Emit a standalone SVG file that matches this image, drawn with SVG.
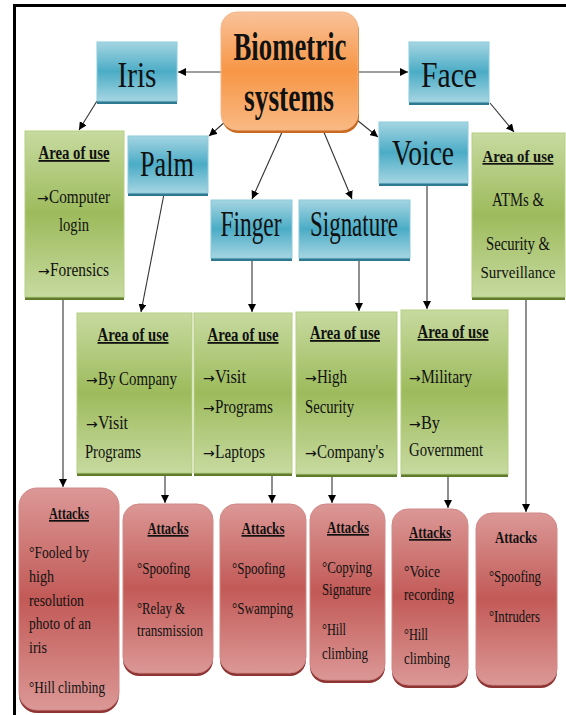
<svg xmlns="http://www.w3.org/2000/svg" width="566" height="715" viewBox="0 0 566 715">
<defs>
<linearGradient id="gO" x1="0" y1="0" x2="0" y2="1"><stop offset="0" stop-color="#F9C299"/><stop offset="0.5" stop-color="#F79646"/><stop offset="1" stop-color="#F9B983"/></linearGradient>
<linearGradient id="gB" x1="0" y1="0" x2="0" y2="1"><stop offset="0" stop-color="#A5D5E2"/><stop offset="0.5" stop-color="#4BACC6"/><stop offset="1" stop-color="#A5D5E2"/></linearGradient>
<linearGradient id="gG" x1="0" y1="0" x2="0" y2="1"><stop offset="0" stop-color="#C7DAA0"/><stop offset="0.5" stop-color="#9DBB5C"/><stop offset="1" stop-color="#C7DAA0"/></linearGradient>
<linearGradient id="gR" x1="0" y1="0" x2="0" y2="1"><stop offset="0" stop-color="#DB9896"/><stop offset="0.5" stop-color="#C25A57"/><stop offset="1" stop-color="#DB9896"/></linearGradient>
<marker id="ah" viewBox="0 0 10 10" refX="10" refY="5" markerWidth="8" markerHeight="8" markerUnits="userSpaceOnUse" orient="auto"><path d="M0,0 L10,5 L0,10 z" fill="#000"/></marker>
</defs>
<style>
text{font-family:"Liberation Serif","Times New Roman",serif;fill:#111;}
.t{font-size:40px;font-weight:bold;text-anchor:middle;}
.b{font-size:36px;text-anchor:middle;}
.h{font-size:18px;font-weight:bold;text-anchor:middle;text-decoration:underline;}
.n{font-size:18px;}
.c{text-anchor:middle;}
.f{font-size:17px;}
.a{font-size:17px;font-weight:bold;text-anchor:middle;text-decoration:underline;}
.an{font-size:17px;font-weight:bold;text-anchor:middle;}
.s{font-size:17px;}
.ar{font-family:"DejaVu Sans",sans-serif;font-size:14px;}
.bo{fill:url(#gO);stroke:#F5B588;stroke-width:1;}
.bb{fill:url(#gB);stroke:#8CCBDB;stroke-width:1;}
.bg{fill:url(#gG);stroke:#B5CF84;stroke-width:1;}
.br{fill:url(#gR);stroke:#D08886;stroke-width:1;}
.so{fill:#C96A20;}
.sb{fill:#2E7890;}
.sg{fill:#5E7A2A;}
.sr{fill:#8E3432;}
.ln{stroke:#333;stroke-width:1.1;fill:none;marker-end:url(#ah);}
.lg{stroke:#7F7F7F;stroke-width:1.5;fill:none;marker-end:url(#ah);}
</style>
<rect width="566" height="715" fill="#fff"/>
<path d="M14.5,715 V5.5 H566" fill="none" stroke="#000" stroke-width="3"/>

<g id="connectors">
<line class="lg" x1="221" y1="72" x2="178" y2="72"/>
<line class="lg" x1="358" y1="72" x2="408" y2="72"/>
<line class="ln" x1="97" y1="101" x2="79" y2="130"/>
<line class="ln" x1="226" y1="121" x2="209" y2="136"/>
<line class="ln" x1="283" y1="130" x2="252" y2="199"/>
<line class="ln" x1="323" y1="130" x2="352" y2="199"/>
<line class="ln" x1="357" y1="120" x2="378" y2="137"/>
<line class="ln" x1="490" y1="103" x2="514" y2="132"/>
<line class="ln" x1="164" y1="194" x2="141" y2="312"/>
<line class="ln" x1="252" y1="259" x2="252" y2="312"/>
<line class="ln" x1="359" y1="259" x2="359" y2="311"/>
<line class="ln" x1="427" y1="185" x2="427" y2="309"/>
<line class="ln" x1="63" y1="299" x2="63" y2="487"/>
<line class="ln" x1="165" y1="475" x2="165" y2="503"/>
<line class="ln" x1="272" y1="475" x2="272" y2="503"/>
<line class="ln" x1="332" y1="476" x2="332" y2="503"/>
<line class="ln" x1="448" y1="476" x2="448" y2="508"/>
<line class="ln" x1="526" y1="299" x2="526" y2="512"/>
</g>

<g id="biometric">
<rect class="so" x="222" y="15" width="137" height="118" rx="16"/>
<rect class="bo" x="221" y="12" width="137" height="118" rx="16"/>
<text class="t" x="290" y="60" textLength="113" lengthAdjust="spacingAndGlyphs">Biometric</text>
<text class="t" x="289" y="111" textLength="90" lengthAdjust="spacingAndGlyphs">systems</text>
</g>

<g id="iris">
<rect class="sb" x="97" y="45" width="80" height="59"/>
<rect class="bb" x="97" y="42" width="80" height="59"/>
<text class="b" x="137" y="87" textLength="39" lengthAdjust="spacingAndGlyphs">Iris</text>
</g>
<g id="face">
<rect class="sb" x="409" y="45" width="80" height="60"/>
<rect class="bb" x="409" y="42" width="80" height="60"/>
<text class="b" x="449" y="87" textLength="56" lengthAdjust="spacingAndGlyphs">Face</text>
</g>
<g id="palm">
<rect class="sb" x="128" y="139" width="80" height="57"/>
<rect class="bb" x="128" y="136" width="80" height="57"/>
<text class="b" x="167" y="176" textLength="54" lengthAdjust="spacingAndGlyphs">Palm</text>
</g>
<g id="finger">
<rect class="sb" x="211" y="203" width="81" height="58"/>
<rect class="bb" x="211" y="200" width="81" height="58"/>
<text class="b" x="251" y="236" textLength="61" lengthAdjust="spacingAndGlyphs">Finger</text>
</g>
<g id="signature">
<rect class="sb" x="299" y="203" width="111" height="58"/>
<rect class="bb" x="299" y="200" width="111" height="58"/>
<text class="b" x="354" y="236" textLength="88" lengthAdjust="spacingAndGlyphs">Signature</text>
</g>
<g id="voice">
<rect class="sb" x="379" y="125" width="89" height="61"/>
<rect class="bb" x="379" y="122" width="89" height="61"/>
<text class="b" x="423" y="165" textLength="62" lengthAdjust="spacingAndGlyphs">Voice</text>
</g>

<g id="use-iris">
<rect class="sg" x="25" y="134" width="99" height="166"/>
<rect class="bg" x="25" y="131" width="99" height="166"/>
<text class="h" x="74" y="159" textLength="71" lengthAdjust="spacingAndGlyphs">Area of use</text>
<text class="n" y="203"><tspan class="ar" x="37">→</tspan><tspan x="49" textLength="61" lengthAdjust="spacingAndGlyphs">Computer</tspan></text>
<text class="n c" x="74" y="231" textLength="30" lengthAdjust="spacingAndGlyphs">login</text>
<text class="n" y="276"><tspan class="ar" x="38">→</tspan><tspan x="50" textLength="59" lengthAdjust="spacingAndGlyphs">Forensics</tspan></text>
</g>
<g id="use-face">
<rect class="sg" x="472" y="136" width="93" height="164"/>
<rect class="bg" x="472" y="133" width="93" height="164"/>
<text class="h f" x="518" y="162" textLength="71" lengthAdjust="spacingAndGlyphs">Area of use</text>
<text class="n c" x="518" y="206" textLength="52" lengthAdjust="spacingAndGlyphs">ATMs &amp;</text>
<text class="n c" x="518" y="250" textLength="64" lengthAdjust="spacingAndGlyphs">Security &amp;</text>
<text class="n c f" x="518" y="278" textLength="75" lengthAdjust="spacingAndGlyphs">Surveillance</text>
</g>
<g id="use-palm">
<rect class="sg" x="77" y="316" width="115" height="160"/>
<rect class="bg" x="77" y="313" width="115" height="160"/>
<text class="h" x="133" y="341" textLength="71" lengthAdjust="spacingAndGlyphs">Area of use</text>
<text class="n" y="385"><tspan class="ar" x="86">→</tspan><tspan x="98" textLength="79" lengthAdjust="spacingAndGlyphs">By Company</tspan></text>
<text class="n" y="429"><tspan class="ar" x="86">→</tspan><tspan x="98" textLength="30" lengthAdjust="spacingAndGlyphs">Visit</tspan></text>
<text class="n" x="85" y="458" textLength="56" lengthAdjust="spacingAndGlyphs">Programs</text>
</g>
<g id="use-finger">
<rect class="sg" x="194" y="316" width="98" height="160"/>
<rect class="bg" x="194" y="313" width="98" height="160"/>
<text class="h" x="243" y="341" textLength="71" lengthAdjust="spacingAndGlyphs">Area of use</text>
<text class="n" y="383"><tspan class="ar" x="203">→</tspan><tspan x="215" textLength="31" lengthAdjust="spacingAndGlyphs">Visit</tspan></text>
<text class="n" y="413"><tspan class="ar" x="203">→</tspan><tspan x="215" textLength="58" lengthAdjust="spacingAndGlyphs">Programs</tspan></text>
<text class="n" y="458"><tspan class="ar" x="203">→</tspan><tspan x="215" textLength="50" lengthAdjust="spacingAndGlyphs">Laptops</tspan></text>
</g>
<g id="use-signature">
<rect class="sg" x="296" y="315" width="101" height="162"/>
<rect class="bg" x="296" y="312" width="101" height="162"/>
<text class="h" x="345" y="339" textLength="70" lengthAdjust="spacingAndGlyphs">Area of use</text>
<text class="n" y="383"><tspan class="ar" x="305">→</tspan><tspan x="317" textLength="30" lengthAdjust="spacingAndGlyphs">High</tspan></text>
<text class="n" x="305" y="413" textLength="49" lengthAdjust="spacingAndGlyphs">Security</text>
<text class="n" y="458"><tspan class="ar" x="305">→</tspan><tspan x="317" textLength="67" lengthAdjust="spacingAndGlyphs">Company's</tspan></text>
</g>
<g id="use-voice">
<rect class="sg" x="401" y="313" width="107" height="164"/>
<rect class="bg" x="401" y="310" width="107" height="164"/>
<text class="h" x="453" y="338" textLength="71" lengthAdjust="spacingAndGlyphs">Area of use</text>
<text class="n" y="383"><tspan class="ar" x="409">→</tspan><tspan x="421" textLength="51" lengthAdjust="spacingAndGlyphs">Military</tspan></text>
<text class="n" y="429"><tspan class="ar" x="409">→</tspan><tspan x="421" textLength="19" lengthAdjust="spacingAndGlyphs">By</tspan></text>
<text class="n" x="409" y="456" textLength="74" lengthAdjust="spacingAndGlyphs">Government</text>
</g>

<g id="attacks-iris">
<rect class="sr" x="19" y="491" width="100" height="222" rx="18"/>
<rect class="br" x="19" y="488" width="100" height="222" rx="18"/>
<text class="a" x="69" y="519" textLength="40" lengthAdjust="spacingAndGlyphs">Attacks</text>
<text class="s" x="29" y="558" textLength="60" lengthAdjust="spacingAndGlyphs">°Fooled by</text>
<text class="s" x="29" y="582" textLength="25" lengthAdjust="spacingAndGlyphs">high</text>
<text class="s" x="29" y="606" textLength="55" lengthAdjust="spacingAndGlyphs">resolution</text>
<text class="s" x="29" y="629" textLength="62" lengthAdjust="spacingAndGlyphs">photo of an</text>
<text class="s" x="29" y="653" textLength="18" lengthAdjust="spacingAndGlyphs">iris</text>
<text class="s" x="29" y="693" textLength="76" lengthAdjust="spacingAndGlyphs">°Hill climbing</text>
</g>
<g id="attacks-palm">
<rect class="sr" x="123" y="507" width="90" height="169" rx="16"/>
<rect class="br" x="123" y="504" width="90" height="169" rx="16"/>
<text class="a" x="168" y="534" textLength="41" lengthAdjust="spacingAndGlyphs">Attacks</text>
<text class="s" x="137" y="574" textLength="53" lengthAdjust="spacingAndGlyphs">°Spoofing</text>
<text class="s" x="137" y="614" textLength="48" lengthAdjust="spacingAndGlyphs">°Relay &amp;</text>
<text class="s" x="137" y="636" textLength="66" lengthAdjust="spacingAndGlyphs">transmission</text>
</g>
<g id="attacks-finger">
<rect class="sr" x="220" y="507" width="86" height="169" rx="16"/>
<rect class="br" x="220" y="504" width="86" height="169" rx="16"/>
<text class="a" x="263" y="534" textLength="43" lengthAdjust="spacingAndGlyphs">Attacks</text>
<text class="s" x="232" y="574" textLength="53" lengthAdjust="spacingAndGlyphs">°Spoofing</text>
<text class="s" x="232" y="614" textLength="61" lengthAdjust="spacingAndGlyphs">°Swamping</text>
</g>
<g id="attacks-signature">
<rect class="sr" x="310" y="507" width="75" height="176" rx="16"/>
<rect class="br" x="310" y="504" width="75" height="176" rx="16"/>
<text class="a" x="348" y="533" textLength="42" lengthAdjust="spacingAndGlyphs">Attacks</text>
<text class="s" x="322" y="573" textLength="50" lengthAdjust="spacingAndGlyphs">°Copying</text>
<text class="s" x="322" y="595" textLength="49" lengthAdjust="spacingAndGlyphs">Signature</text>
<text class="s" x="322" y="635" textLength="24" lengthAdjust="spacingAndGlyphs">°Hill</text>
<text class="s" x="322" y="659" textLength="46" lengthAdjust="spacingAndGlyphs">climbing</text>
</g>
<g id="attacks-voice">
<rect class="sr" x="392" y="512" width="76" height="176" rx="16"/>
<rect class="br" x="392" y="509" width="76" height="176" rx="16"/>
<text class="a" x="430" y="538" textLength="42" lengthAdjust="spacingAndGlyphs">Attacks</text>
<text class="s" x="404" y="577" textLength="36" lengthAdjust="spacingAndGlyphs">°Voice</text>
<text class="s" x="404" y="600" textLength="50" lengthAdjust="spacingAndGlyphs">recording</text>
<text class="s" x="404" y="640" textLength="24" lengthAdjust="spacingAndGlyphs">°Hill</text>
<text class="s" x="404" y="664" textLength="46" lengthAdjust="spacingAndGlyphs">climbing</text>
</g>
<g id="attacks-face">
<rect class="sr" x="476" y="516" width="81" height="172" rx="16"/>
<rect class="br" x="476" y="513" width="81" height="172" rx="16"/>
<text class="an" x="516" y="543" textLength="42" lengthAdjust="spacingAndGlyphs">Attacks</text>
<text class="s" x="489" y="582" textLength="52" lengthAdjust="spacingAndGlyphs">°Spoofing</text>
<text class="s" x="489" y="622" textLength="51" lengthAdjust="spacingAndGlyphs">°Intruders</text>
</g>
</svg>
